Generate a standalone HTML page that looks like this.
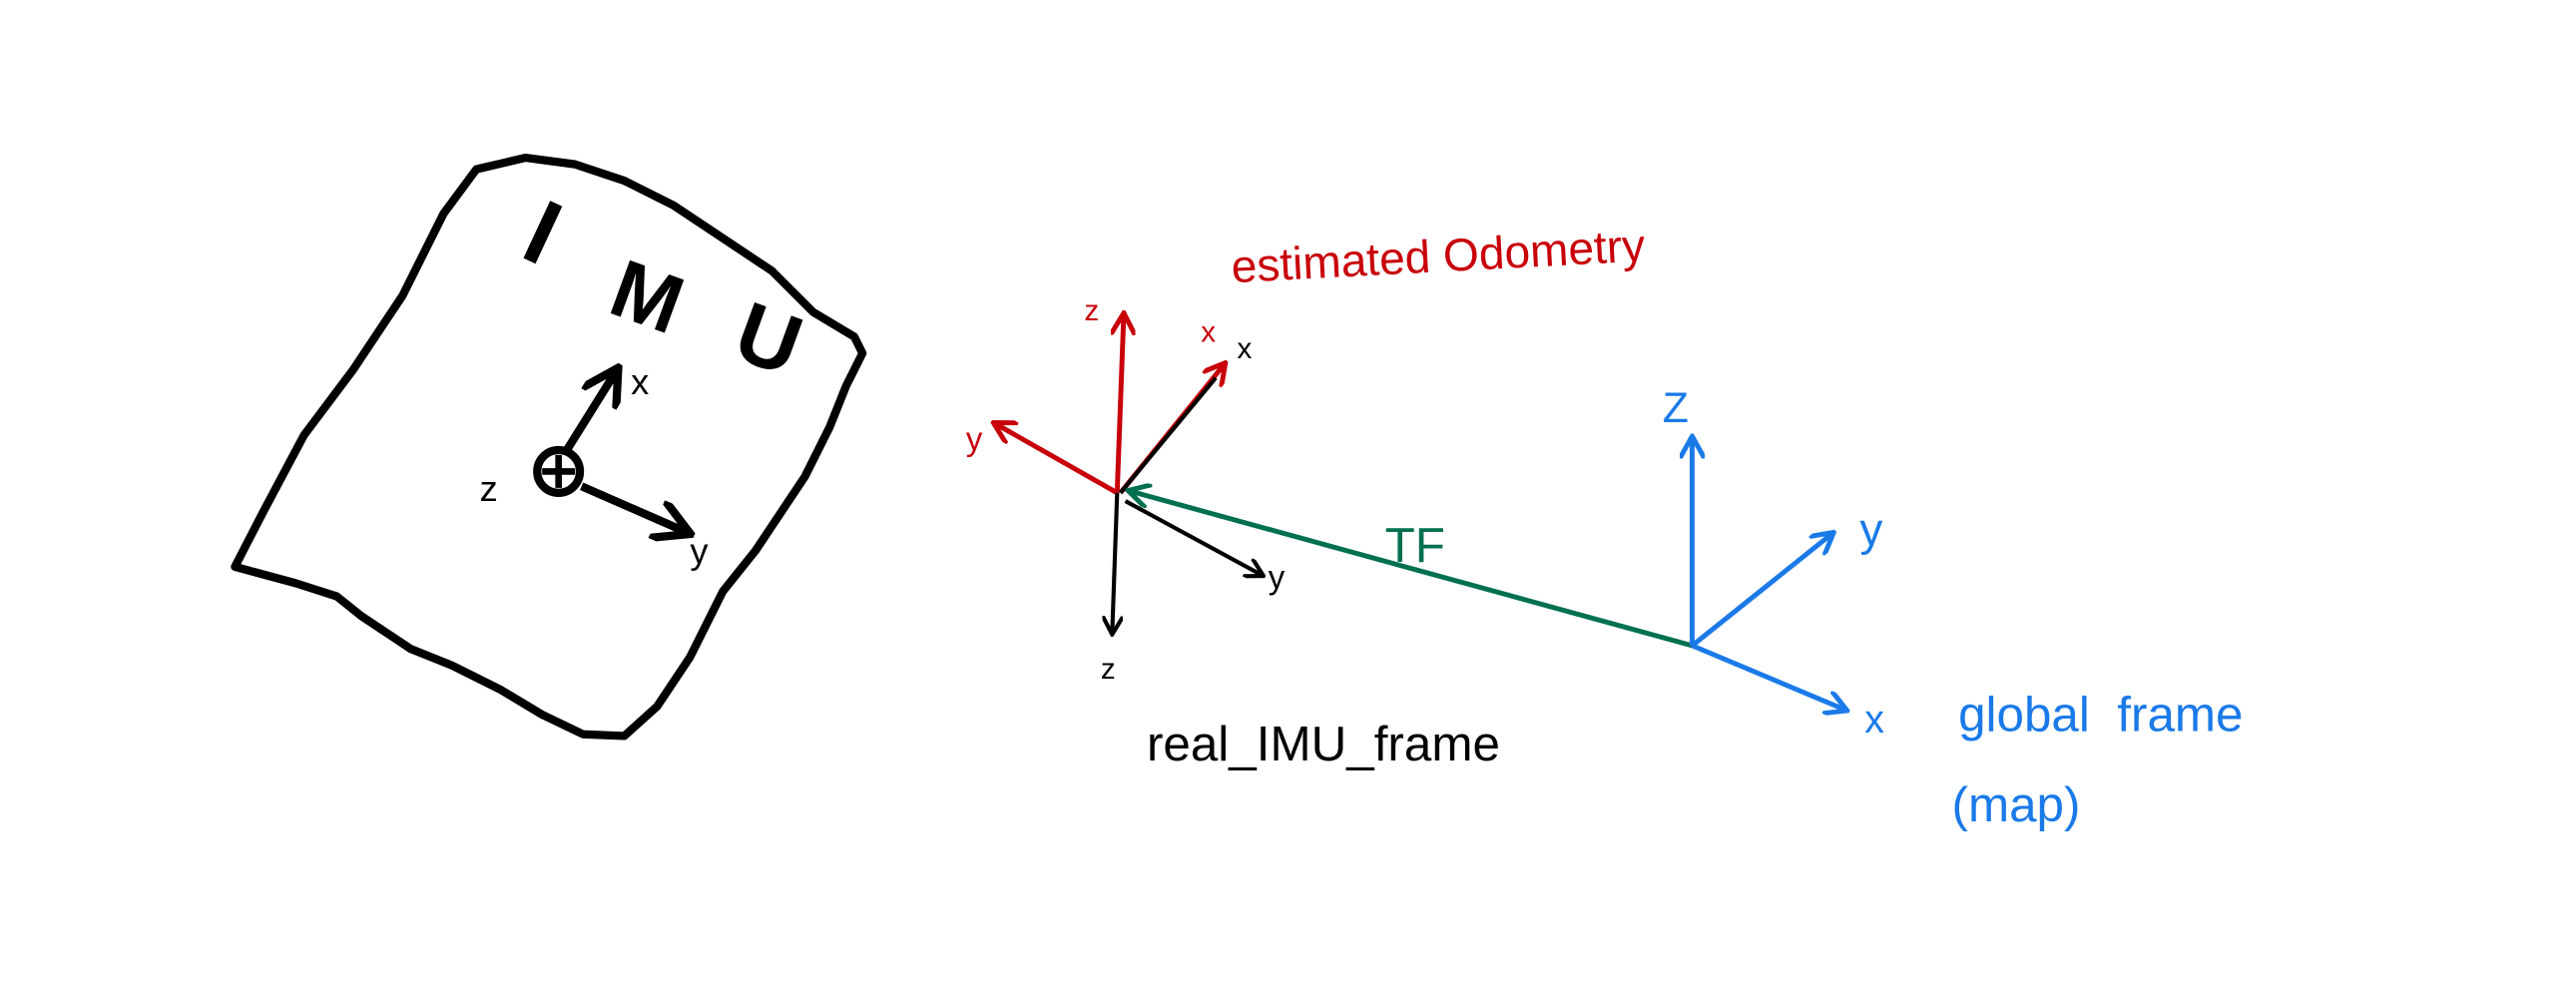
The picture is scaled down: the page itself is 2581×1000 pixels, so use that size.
<!DOCTYPE html>
<html><head><meta charset="utf-8"><style>
html,body{margin:0;padding:0;background:#fff;}
svg{display:block;}
text{font-family:"Liberation Sans",sans-serif;}
</style></head><body>
<svg width="2581" height="1000" viewBox="0 0 1568 607.5">
<defs>
<marker id="ah" viewBox="0 0 10 10" refX="8" refY="5" markerWidth="5" markerHeight="5" orient="auto-start-reverse"><path d="M0,0 L9,5 L0,10" fill="none" stroke="context-stroke" stroke-width="2"/></marker>
</defs>
<g>
<path d="M143,345 L160,312 L185,265 L215,225 L245,180 L270,130 L290,103 L320,96 L350,100 L380,110 L410,125 L440,145 L470,165 L495,190 L520,205 L525,215 L515,235 L505,260 L490,290 L470,320 L460,335 L440,360 L420,400 L400,430 L380,448 L355,447 L330,435 L305,420 L275,405 L250,395 L235,385 L220,375 L205,363 L180,355 Z" fill="none" stroke="#000" stroke-width="5" stroke-linejoin="round"/>
<text x="322" y="165" font-size="56" font-weight="bold" transform="rotate(25 340 145)" fill="#000">I</text>
<text x="372" y="200" font-size="50" font-weight="bold" transform="rotate(20 400 185)" fill="#000">M</text>
<text x="448" y="225" font-size="52" font-weight="bold" transform="rotate(20 470 210)" fill="#000">U</text>
<circle cx="340" cy="287" r="13" fill="none" stroke="#000" stroke-width="5"/>
<path d="M330,287 L350,287 M340,277 L340,297" stroke="#000" stroke-width="4"/>
<path d="M345,274 L375,226" stroke="#000" stroke-width="5" fill="none" marker-end="url(#ah)"/>
<path d="M354,296 L418,324" stroke="#000" stroke-width="5" fill="none" marker-end="url(#ah)"/>
<text x="384" y="240" font-size="22" fill="#000">x</text>
<text x="420" y="343" font-size="22" fill="#000">y</text>
<text x="292" y="305" font-size="22" fill="#000">z</text>
</g>
<g stroke="#c8000a" stroke-width="3" fill="none">
<path d="M680,300 L684,192" marker-end="url(#ah)"/>
<path d="M682,300 L745,222" marker-end="url(#ah)"/>
<path d="M680,300 L606,258" marker-end="url(#ah)"/>
</g>
<text x="660" y="195" font-size="18" fill="#c8000a">z</text>
<text x="731" y="208" font-size="18" fill="#c8000a">x</text>
<text x="588" y="274" font-size="20" fill="#c8000a">y</text>
<text x="750" y="172" font-size="28" fill="#c8000a" transform="rotate(-3 750 172)">estimated Odometry</text>
<text x="753" y="218" font-size="18" fill="#000">x</text>
<g stroke="#000" stroke-width="2.5" fill="none">
<path d="M680,300 L677,385" marker-end="url(#ah)"/>
<path d="M685,305 L768,350" marker-end="url(#ah)"/>
<path d="M682,300 L740,230"/>
</g>
<text x="670" y="413" font-size="18" fill="#000">z</text>
<text x="772" y="358" font-size="20" fill="#000">y</text>
<text x="698" y="463" font-size="30" fill="#000">real_IMU_frame</text>
<path d="M1030,393 L688,299" stroke="#007050" stroke-width="3" fill="none" marker-end="url(#ah)"/>
<text x="843" y="342" font-size="30" fill="#007050">TF</text>
<g stroke="#1a7ae8" stroke-width="3" fill="none">
<path d="M1030,393 L1030,267" marker-end="url(#ah)"/>
<path d="M1030,393 L1115,325" marker-end="url(#ah)"/>
<path d="M1030,393 L1123,432" marker-end="url(#ah)"/>
</g>
<text x="1012" y="257" font-size="26" fill="#1a7ae8">Z</text>
<text x="1132" y="332" font-size="28" fill="#1a7ae8">y</text>
<text x="1135" y="446" font-size="24" fill="#1a7ae8">x</text>
<text x="1192" y="445" font-size="30" fill="#1a7ae8">global&#160;&#160;frame</text>
<text x="1188" y="500" font-size="30" fill="#1a7ae8">(map)</text>
</svg>
</body></html>
